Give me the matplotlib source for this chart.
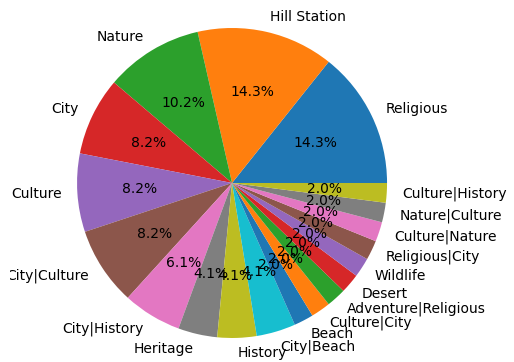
import matplotlib
matplotlib.use("Agg")
import matplotlib.pyplot as plt
from matplotlib.transforms import Bbox, TransformedBbox

# trip categories and counts (percentages in the chart are count / 49)
categories = ["Religious", "Hill Station", "Nature", "City", "Culture", "City|Culture",
              "City|History", "Heritage", "History", "City|Beach", "Beach", "Culture|City",
              "Adventure|Religious", "Desert", "Wildlife", "Religious|City",
              "Culture|Nature", "Nature|Culture", "Culture|History"]
counts = [7, 7, 5, 4, 4, 4, 3, 2, 2, 2, 1, 1, 1, 1, 1, 1, 1, 1, 1]

fig = plt.figure(figsize=(5.14, 3.62), dpi=100)
# pie is placed so its edge is cut like the reference
ax = fig.add_axes([0.0745, -0.0407, 0.7539, 1.0704])
wedges, texts, autotexts = ax.pie(counts, labels=categories, autopct="%1.1f%%")

# the reference image is cropped on the left, cutting the first letter of "City|Culture"
crop = TransformedBbox(Bbox([[10 / 514, 0], [1, 1]]), fig.transFigure)
for t in texts:
    t.set_clip_box(crop)
    t.set_clip_on(True)

plt.savefig("out.png", dpi=100)
